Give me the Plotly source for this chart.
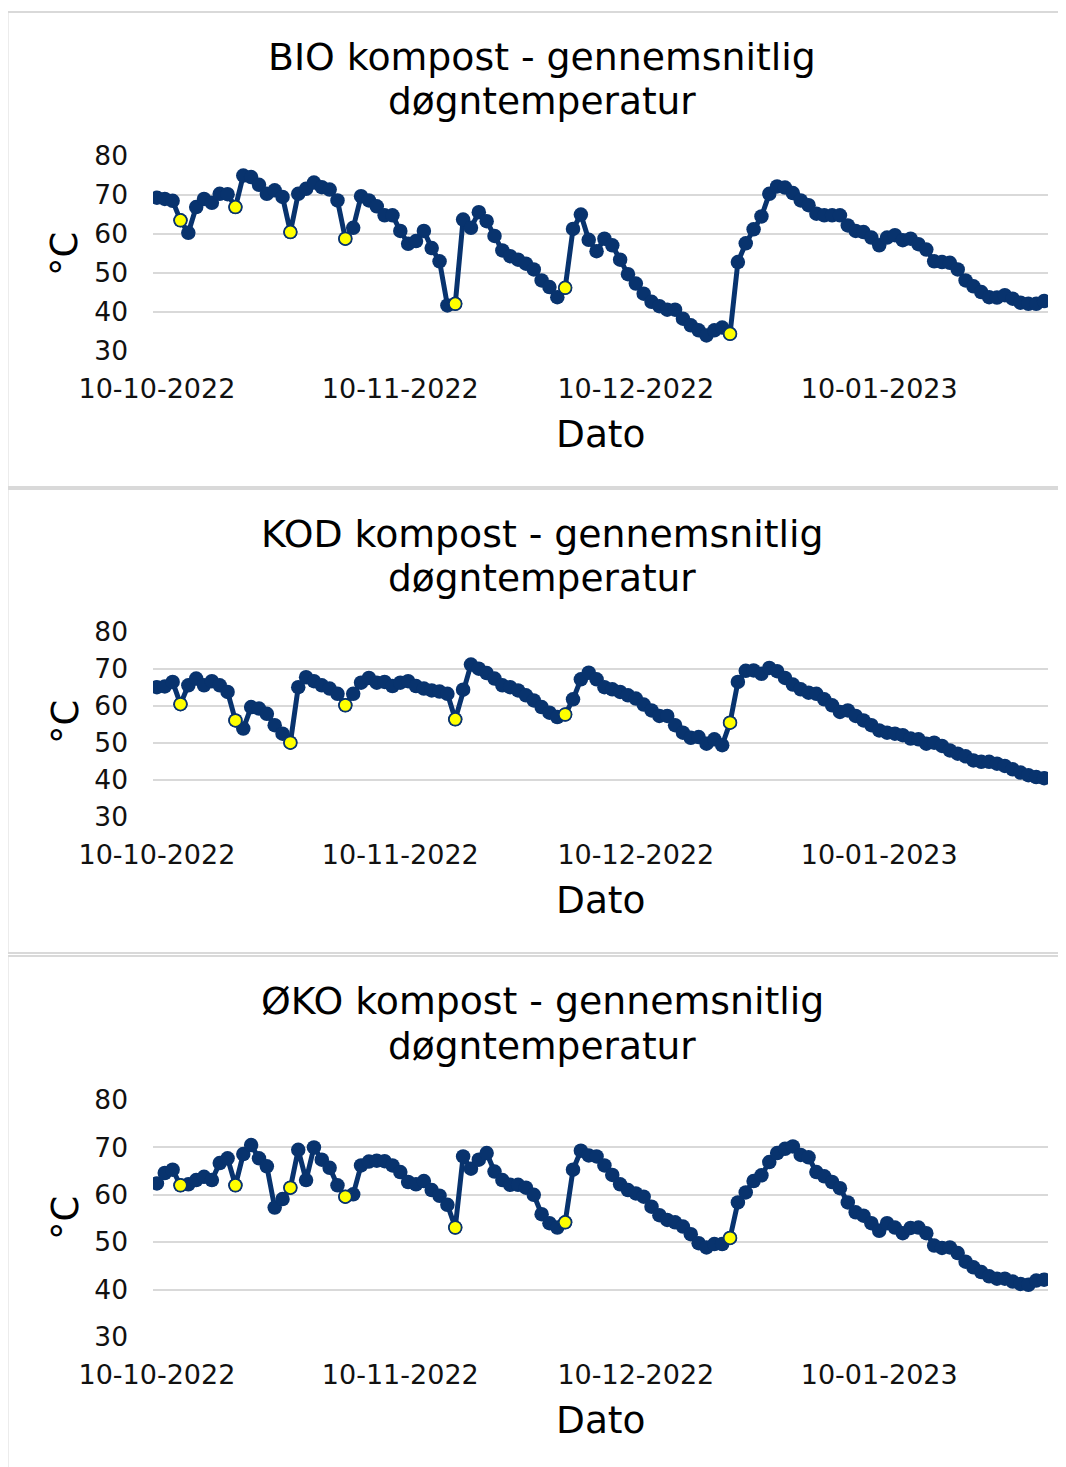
import plotly.graph_objects as go
import pandas as pd

# ---------------- data ----------------
start_date = "2022-10-10"

bio_temp = [69.3, 69.0, 68.5, 63.5, 60.3, 66.9, 69.0, 68.0, 70.3, 70.2,
            66.9, 75.0, 74.6, 72.6, 70.3, 71.2, 69.5, 60.5, 70.3, 71.6,
            73.2, 72.0, 71.4, 68.6, 58.8, 61.6, 69.7, 68.6, 67.1, 64.8,
            64.8, 60.8, 57.5, 58.2, 60.8, 56.4, 53.0, 41.7, 42.1, 63.7,
            61.6, 65.6, 63.3, 59.5, 55.8, 54.3, 53.4, 52.4, 50.9, 48.1,
            46.4, 43.8, 46.2, 61.3, 65.0, 58.5, 55.6, 58.8, 57.1, 53.4,
            49.7, 47.3, 44.7, 42.6, 41.5, 40.6, 40.6, 38.3, 36.6, 35.3,
            34.0, 35.3, 36.0, 34.4, 52.8, 57.6, 61.2, 64.5, 70.3, 72.2,
            71.9, 70.5, 68.6, 67.4, 65.2, 64.8, 64.8, 64.8, 62.2, 60.8,
            60.5, 59.1, 57.1, 59.1, 59.7, 58.4, 58.8, 57.4, 56.0, 53.0,
            52.8, 52.6, 50.9, 48.1, 46.6, 45.1, 43.8, 43.7, 44.3, 43.4,
            42.4, 42.1, 42.1, 42.8]

kod_temp = [65.1, 65.3, 66.5, 60.5, 65.6, 67.4, 65.6, 66.7, 65.6, 63.8,
            56.1, 53.9, 59.7, 59.3, 57.9, 54.8, 52.5, 50.1, 65.1, 67.8,
            66.7, 65.6, 64.7, 63.3, 60.2, 63.3, 66.3, 67.6, 66.3, 66.5,
            65.4, 66.3, 66.7, 65.4, 64.7, 64.2, 63.9, 63.3, 56.4, 64.4,
            71.2, 70.1, 68.9, 67.4, 65.6, 65.1, 64.2, 62.9, 61.5, 59.7,
            58.2, 57.0, 57.7, 61.8, 67.2, 69.0, 67.2, 65.1, 64.5, 63.8,
            62.9, 62.0, 60.4, 58.8, 57.3, 57.3, 54.8, 52.8, 51.4, 51.6,
            49.8, 51.0, 49.4, 55.5, 66.5, 69.5, 69.6, 68.7, 70.3, 69.4,
            67.6, 65.8, 64.5, 63.6, 63.3, 61.8, 60.2, 58.4, 58.8, 57.3,
            56.1, 54.8, 53.4, 52.8, 52.5, 52.1, 51.2, 51.0, 49.8, 50.1,
            49.2, 48.0, 47.1, 46.4, 45.3, 44.9, 44.9, 44.4, 43.8, 42.9,
            42.0, 41.3, 40.8, 40.5]

oko_temp = [62.4, 64.6, 65.3, 62.0, 62.2, 63.1, 63.8, 63.1, 66.7, 67.7,
            62.0, 68.6, 70.5, 67.7, 66.0, 57.3, 59.1, 61.5, 69.5, 63.1,
            70.0, 67.4, 65.7, 62.0, 59.6, 60.1, 66.2, 67.0, 67.2, 67.1,
            66.2, 64.8, 62.7, 62.2, 62.9, 61.0, 59.8, 57.9, 53.1, 68.1,
            65.5, 67.4, 68.8, 64.9, 63.1, 62.1, 62.1, 61.5, 60.0, 55.9,
            54.0, 53.1, 54.2, 65.3, 69.3, 68.3, 68.1, 66.2, 64.2, 62.2,
            61.0, 60.3, 59.6, 57.5, 55.7, 54.7, 54.2, 53.3, 51.7, 49.8,
            48.9, 49.6, 49.6, 50.9, 58.4, 60.5, 62.9, 64.1, 66.9, 68.8,
            69.7, 70.2, 68.4, 67.9, 64.8, 63.9, 62.7, 61.4, 58.4, 56.3,
            55.6, 54.0, 52.4, 54.0, 53.1, 51.9, 53.0, 53.1, 51.9, 49.3,
            48.8, 48.9, 47.7, 45.9, 44.7, 43.7, 42.8, 42.3, 42.3, 41.7,
            41.2, 41.0, 41.9, 42.1]

turn_dates = ["2022-10-13", "2022-10-20", "2022-10-27", "2022-11-03",
              "2022-11-17", "2022-12-01", "2022-12-22"]

chart_titles = ["BIO kompost - gennemsnitlig",
                "KOD kompost - gennemsnitlig",
                "ØKO kompost - gennemsnitlig"]
chart_subtitle = "døgntemperatur"
x_tick_dates = ["2022-10-10", "2022-11-10", "2022-12-10", "2023-01-10"]
x_tick_labels = ["10-10-2022", "10-11-2022", "10-12-2022", "10-01-2023"]
y_tick_values = [30, 40, 50, 60, 70, 80]
x_title = "Dato"
y_title = "°C"

# ---------------- layout geometry (page pixels) ----------------
PAGE_W, PAGE_H = 1066, 1467
OFF = 8                      # default body margin of the html page
W, H = PAGE_W - OFF, PAGE_H - OFF
FONT = "DejaVu Sans"
NAVY = "#08336E"
GRID = "#D9D9D9"
PLOT_X0, PLOT_X1 = 153, 1048
panels = [
    dict(y80=156, y30=351, t1=57, t2=101, ylab=254, dato=434, box=(12, 487)),
    dict(y80=632, y30=817, t1=534, t2=578, ylab=722, dato=900, box=(489, 953)),
    dict(y80=1100, y30=1337, t1=1001, t2=1046, ylab=1218, dato=1420, box=(956, 1500)),
]
series_list = [bio_temp, kod_temp, oko_temp]

def px_x(p):
    return (p - OFF) / W

def px_y(p):
    return 1 - (p - OFF) / H

fig = go.Figure()
x_lo = pd.Timestamp(start_date) - pd.Timedelta(hours=12)
x_hi = pd.Timestamp(start_date) + pd.Timedelta(days=len(bio_temp) - 1, hours=12)
turn_ts = pd.to_datetime(turn_dates)

annotations = []
shapes = []
layout_axes = {}
pad = 0.15
for i, (pan, vals) in enumerate(zip(panels, series_list)):
    n = i + 1
    xa = "x" if n == 1 else f"x{n}"
    ya = "y" if n == 1 else f"y{n}"
    dates = pd.date_range(start_date, periods=len(vals), freq="D")
    idx = dates.get_indexer(turn_ts)
    fig.add_trace(go.Scatter(
        x=dates, y=vals, mode="lines+markers", xaxis=xa, yaxis=ya,
        line=dict(color=NAVY, width=5),
        marker=dict(color=NAVY, size=14.5, line=dict(color=NAVY, width=0)),
        showlegend=False, hoverinfo="x+y"))
    fig.add_trace(go.Scatter(
        x=dates[idx], y=[vals[k] for k in idx], mode="markers", xaxis=xa, yaxis=ya,
        marker=dict(color="#FFFF00", size=12.5, line=dict(color=NAVY, width=1.5)),
        showlegend=False, hoverinfo="x+y"))

    ppu = (pan["y30"] - pan["y80"]) / 50.0
    top = pan["y80"] - pad * ppu
    bot = pan["y30"] + pad * ppu
    xkey = "xaxis" if n == 1 else f"xaxis{n}"
    ykey = "yaxis" if n == 1 else f"yaxis{n}"
    layout_axes[xkey] = dict(
        domain=[px_x(PLOT_X0), px_x(PLOT_X1)], anchor=ya, type="date",
        range=[x_lo, x_hi], tickvals=x_tick_dates, ticktext=x_tick_labels,
        showgrid=False, zeroline=False, showline=False, ticks="",
        ticklabelstandoff=18, automargin=False,
        tickfont=dict(family=FONT, size=27, color="#111111"))
    layout_axes[ykey] = dict(
        domain=[px_y(bot), px_y(top)], anchor=xa,
        range=[30 - pad, 80 + pad], tickvals=y_tick_values,
        showgrid=True, gridcolor=GRID, gridwidth=2, zeroline=False,
        showline=False, ticks="", ticklabelstandoff=24, automargin=False,
        tickfont=dict(family=FONT, size=26.5, color="#111111"))

    cx = 542
    annotations += [
        dict(text=chart_titles[i], x=px_x(cx), y=px_y(pan["t1"]), xref="paper", yref="paper",
             xanchor="center", yanchor="middle", showarrow=False,
             font=dict(family=FONT, size=37.8, color="#000000")),
        dict(text=chart_subtitle, x=px_x(cx), y=px_y(pan["t2"]), xref="paper", yref="paper",
             xanchor="center", yanchor="middle", showarrow=False,
             font=dict(family=FONT, size=37.5, color="#000000")),
        dict(text=x_title, x=px_x((PLOT_X0 + PLOT_X1) / 2), y=px_y(pan["dato"]),
             xref="paper", yref="paper", xanchor="center", yanchor="middle",
             showarrow=False, font=dict(family=FONT, size=37.5, color="#000000")),
        dict(text=y_title, x=px_x(65), y=px_y(pan["ylab"]), xref="paper", yref="paper",
             xanchor="center", yanchor="middle", textangle=-90, showarrow=False,
             font=dict(family=FONT, size=37, color="#000000")),
    ]
    b0, b1 = pan["box"]
    shapes.append(dict(type="rect", xref="paper", yref="paper",
                       x0=px_x(7.5), x1=px_x(1080), y0=px_y(b1), y1=px_y(b0),
                       line=dict(color=GRID, width=2), fillcolor="rgba(0,0,0,0)",
                       layer="below"))

fig.update_layout(
    width=W, height=H, margin=dict(l=0, r=0, t=0, b=0, autoexpand=False),
    paper_bgcolor="white", plot_bgcolor="white",
    annotations=annotations, shapes=shapes, **layout_axes)

fig.write_html("out.html")
